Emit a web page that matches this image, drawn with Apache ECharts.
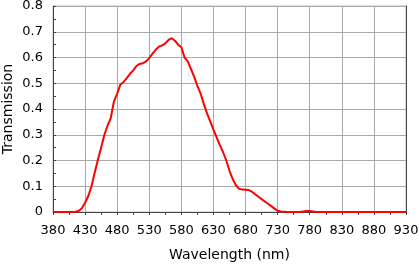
<!DOCTYPE html>
<html><head><meta charset="utf-8">
<script src="https://cdn.jsdelivr.net/npm/echarts@6/dist/echarts.min.js"></script>
<style>html,body{margin:0;padding:0;background:#fff}#c{width:419px;height:264px}</style>
</head><body><div id="c"></div>
<script>
var wavelengths = [380,385,390,395,400,405,410,415,420,425,430,435,440,445,450,455,460,465,470,475,480,485,490,495,500,505,510,515,520,525,530,535,540,545,550,555,560,565,570,575,580,585,590,595,600,605,610,615,620,625,630,635,640,645,650,655,660,665,670,675,680,685,690,695,700,705,710,715,720,725,730,735,740,745,750,755,760,765,770,775,780,785,790,800,850,900,930];
var transmission = [0,0,0,0,0,0,0,0.001,0.004,0.015,0.036,0.062,0.1,0.153,0.203,0.25,0.3,0.335,0.365,0.43,0.46,0.495,0.505,0.52,0.537,0.55,0.567,0.575,0.578,0.585,0.597,0.615,0.63,0.642,0.647,0.655,0.668,0.675,0.665,0.65,0.64,0.6,0.585,0.555,0.525,0.49,0.46,0.42,0.383,0.352,0.32,0.29,0.26,0.232,0.2,0.16,0.128,0.104,0.09,0.087,0.086,0.085,0.079,0.069,0.059,0.05,0.041,0.032,0.023,0.013,0.005,0.002,0.001,0,0,0,0,0,0.002,0.004,0.004,0.002,0,0,0,0,0];
var xStart = 380, xEnd = 930, xStep = 50;
var yTicks = [0,0.1,0.2,0.3,0.4,0.5,0.6,0.7,0.8];
var xTitle = 'Wavelength (nm)';
var yTitle = 'Transmission';

var data = wavelengths.map(function(w,i){return [w - xStart, transmission[i]];});
var font = 'DejaVu Sans';
var chart = echarts.init(document.getElementById('c'), null, {renderer:'canvas'});
chart.setOption({
  animation:false,
  grid:{left:53,right:13,top:6,bottom:52,containLabel:false,outerBoundsMode:'none',show:true,borderColor:'#bbb',borderWidth:1},
  xAxis:{type:'value',min:0,max:xEnd-xStart,interval:xStep,
    name:xTitle,nameLocation:'middle',nameGap:36,nameMoveOverlap:false,
    nameTextStyle:{fontFamily:font,fontSize:14,color:'#000'},
    axisLine:{lineStyle:{color:'#444',width:1}},
    axisTick:{show:true,length:3,lineStyle:{color:'#444'}},
    minorTick:{show:true,splitNumber:2,length:3,lineStyle:{color:'#444'}},
    axisLabel:{fontFamily:font,fontSize:13,color:'#000',margin:12,formatter:function(v){return String(v+xStart);}},
    splitLine:{show:true,lineStyle:{color:'#aaa',width:1}}},
  yAxis:[{type:'value',min:yTicks[0],max:yTicks[yTicks.length-1],interval:0.1,
    name:yTitle,nameLocation:'middle',nameGap:38,nameMoveOverlap:false,
    nameTextStyle:{fontFamily:font,fontSize:14,color:'#000'},
    axisLine:{show:true,lineStyle:{color:'#444',width:1}},
    axisTick:{show:true,inside:true,length:3,lineStyle:{color:'#444'}},
    minorTick:{show:true,splitNumber:2,length:3,lineStyle:{color:'#444'}},
    axisLabel:{fontFamily:font,fontSize:13,color:'#000',margin:10,formatter:function(v){return v===0?'0':v.toFixed(1);}},
    splitLine:{show:true,lineStyle:{color:'#aaa',width:1}}},
   {type:'value',position:'right',min:0,max:0.8,axisLine:{show:true,lineStyle:{color:'#444'}},axisTick:{show:false},axisLabel:{show:false},splitLine:{show:false}}],
  series:[{type:'line',data:data,showSymbol:false,lineStyle:{color:'#ff0000',width:2},itemStyle:{color:'#ff0000'},smooth:false}]
});
</script></body></html>
